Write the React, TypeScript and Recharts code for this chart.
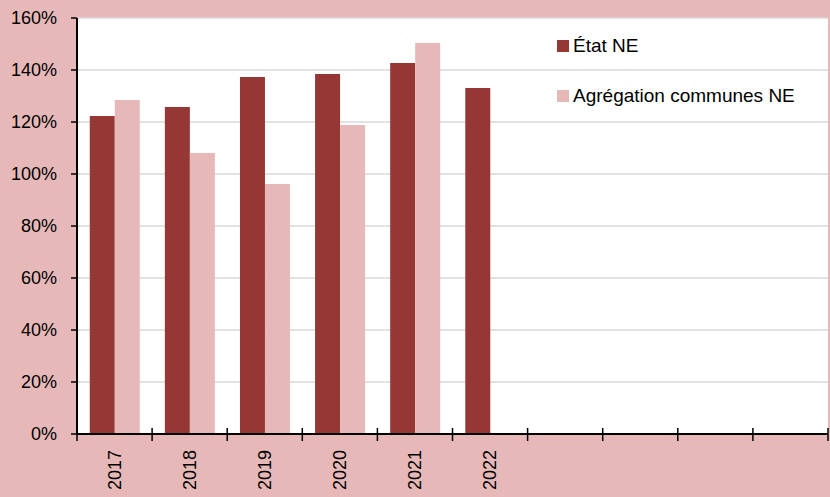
import { BarChart, Bar, XAxis, YAxis, CartesianGrid } from "recharts";

const years = ["2017", "2018", "2019", "2020", "2021", "2022", "", "", "", ""];
const etatNE = [122.3, 125.8, 137.3, 138.5, 142.7, 133.1, null, null, null, null];
const communesNE = [128.5, 108.1, 96.2, 118.8, 150.4, null, null, null, null, null];
const yTicks = [0, 20, 40, 60, 80, 100, 120, 140, 160];

const data = years.map((year, i) => ({
  year,
  etat: etatNE[i],
  communes: communesNE[i],
}));

const DARK = "#953735";
const LIGHT = "#e6b9b8";
const W = 830;
const H = 497;
const PLOT_LEFT = 77;
const PLOT_RIGHT = 828;
const BAND = (PLOT_RIGHT - PLOT_LEFT) / years.length;
const FONT = "'Liberation Sans', Arial, sans-serif";

// x ticks sit between the categories, labels are rotated in the middle
function YearTick(props: any) {
  const { x, y, payload, index } = props;
  const left = x - BAND / 2;
  return (
    <g>
      <line x1={left} x2={left} y1={y - 6} y2={y + 7} stroke="#000" strokeWidth={1.5} />
      {index === years.length - 1 && (
        <line x1={x + BAND / 2} x2={x + BAND / 2} y1={y - 6} y2={y + 7} stroke="#000" strokeWidth={1.5} />
      )}
      <text
        x={x}
        y={y + 16}
        transform={`rotate(-90, ${x}, ${y + 16})`}
        textAnchor="end"
        dominantBaseline="central"
        fontSize={18}
        fontFamily={FONT}
        fill="#000"
      >
        {payload.value}
      </text>
    </g>
  );
}

const legendItems = [
  { label: "État NE", color: DARK },
  { label: "Agrégation communes NE", color: LIGHT },
];

function LegendBox() {
  return (
    <div style={{ position: "absolute", left: 557, top: 33, fontFamily: FONT, fontSize: 19, color: "#000" }}>
      {legendItems.map((it, i) => (
        <div key={it.label} style={{ display: "flex", alignItems: "center", height: 26, marginBottom: i === 0 ? 24 : 0 }}>
          <span style={{ width: 12, height: 12, background: it.color, marginRight: 4, display: "inline-block" }} />
          <span>{it.label}</span>
        </div>
      ))}
    </div>
  );
}

export default function App() {
  return (
    <div style={{ position: "fixed", left: 0, top: 0, width: W, height: H, background: LIGHT }}>
      <BarChart
        width={W}
        height={H}
        data={data}
        margin={{ top: 18, right: W - PLOT_RIGHT, left: 0, bottom: 0 }}
        barCategoryGap="17%"
        barGap={0}
      >
        <CartesianGrid vertical={false} stroke="#d9d9d9" strokeWidth={1.5} fill="#fff" fillOpacity={1} />
        <XAxis
          dataKey="year"
          height={63}
          axisLine={{ stroke: "#000", strokeWidth: 2 }}
          tickLine={false}
          tickSize={0}
          tickMargin={0}
          tick={<YearTick />}
          interval={0}
        />
        <XAxis
          xAxisId="top"
          dataKey="year"
          orientation="top"
          height={0}
          axisLine={{ stroke: "#000", strokeWidth: 2 }}
          tick={false}
          tickLine={false}
        />
        <YAxis
          domain={[0, 160]}
          ticks={yTicks}
          width={PLOT_LEFT}
          tickFormatter={(v) => `${v}%`}
          axisLine={{ stroke: "#000", strokeWidth: 2 }}
          tickLine={{ stroke: "#000", strokeWidth: 1.5 }}
          tickSize={6}
          tickMargin={14}
          tick={{ fill: "#000", fontSize: 18, fontFamily: FONT }}
          interval={0}
        />
        <YAxis
          yAxisId="right"
          orientation="right"
          width={0}
          domain={[0, 160]}
          axisLine={{ stroke: "#000", strokeWidth: 2 }}
          tick={false}
          tickLine={false}
        />
        <Bar dataKey="etat" name="État NE" fill={DARK} isAnimationActive={false} />
        <Bar dataKey="communes" name="Agrégation communes NE" fill={LIGHT} isAnimationActive={false} />
      </BarChart>
      <LegendBox />
    </div>
  );
}
